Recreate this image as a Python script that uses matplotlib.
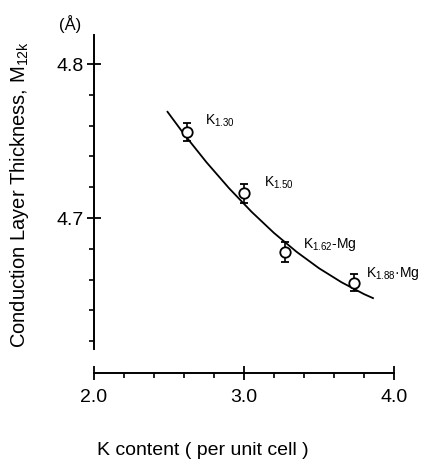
import matplotlib
matplotlib.use("Agg")
import matplotlib.pyplot as plt
from matplotlib.ticker import MultipleLocator, FixedLocator

plt.rcParams['font.family'] = ['Liberation Sans', 'DejaVu Sans']
plt.rcParams['mathtext.fontset'] = 'custom'
plt.rcParams['mathtext.rm'] = 'Liberation Sans'

# ── Data ──────────────────────────────────────────────────────────────────────
k_content = [2.62, 3.00, 3.27, 3.73]
thickness = [4.756, 4.716, 4.678, 4.658]
thick_err = [0.006, 0.006, 0.0065, 0.0055]
labels    = [r"K$_\mathregular{1.30}$", r"K$_\mathregular{1.50}$",
             r"K$_\mathregular{1.62}$-Mg", r"K$_\mathregular{1.88}$·Mg"]
label_x   = [2.74, 3.13, 3.39, 3.81]
label_y   = [4.763, 4.723, 4.683, 4.664]

# trend line as drawn in the figure
curve_x = [2.49, 2.60, 2.75, 2.90, 3.05, 3.20, 3.35, 3.50, 3.65, 3.80, 3.86]
curve_y = [4.769, 4.7545, 4.7362, 4.7194, 4.7041, 4.6903, 4.6781, 4.6674,
           4.6583, 4.6506, 4.6480]

# ── Figure ────────────────────────────────────────────────────────────────────
fig = plt.figure(figsize=(4.25, 4.63), dpi=100)
ax = fig.add_axes([0.2212, 0.1948, 0.7059, 0.730])

ax.plot(curve_x, curve_y, color="black", linewidth=1.3, zorder=1)
ax.errorbar(k_content, thickness, yerr=thick_err, fmt="o", color="black",
            markerfacecolor="white", markeredgecolor="black", markersize=7.5,
            markeredgewidth=1.3, elinewidth=1.2, capsize=3, capthick=1.2, zorder=3)

for x, y, s in zip(label_x, label_y, labels):
    ax.text(x, y, s, fontsize=10, ha="left", va="center", clip_on=False)

ax.set_xlim(2.0, 4.0)
ax.set_ylim(4.5995, 4.819)

for side in ["top", "right"]:
    ax.spines[side].set_visible(False)
ax.spines["left"].set_bounds(4.615, 4.819)
ax.spines["bottom"].set_bounds(2.0, 4.0)
ax.spines["left"].set_linewidth(1.4)
ax.spines["bottom"].set_linewidth(1.4)

ax.xaxis.set_major_locator(FixedLocator([2.0, 3.0, 4.0]))
ax.xaxis.set_minor_locator(MultipleLocator(0.2))
ax.yaxis.set_major_locator(FixedLocator([4.7, 4.8]))
ax.yaxis.set_minor_locator(FixedLocator([4.62, 4.64, 4.66, 4.68, 4.72, 4.74, 4.76, 4.78]))
ax.set_xticklabels(["2.0", "3.0", "4.0"])
ax.set_yticklabels(["4.7", "4.8"])

ax.tick_params(axis="both", which="major", direction="inout", length=10, width=1.3,
               labelsize=14)
ax.tick_params(axis="both", which="minor", direction="out", length=3.5, width=1.2)
ax.tick_params(axis="x", which="major", pad=7)
ax.tick_params(axis="y", which="major", pad=2.5)

fig.text(0.165, 0.948, "(Å)", fontsize=12, ha="center", va="center")
fig.text(0.047, 0.579, r"Conduction Layer Thickness, M$_\mathregular{12k}$",
         fontsize=14.5, rotation=90, ha="center", va="center")
fig.text(0.478, 0.028, "K content ( per unit cell )", fontsize=14,
         ha="center", va="center")

fig.savefig("out.png", dpi=100)
